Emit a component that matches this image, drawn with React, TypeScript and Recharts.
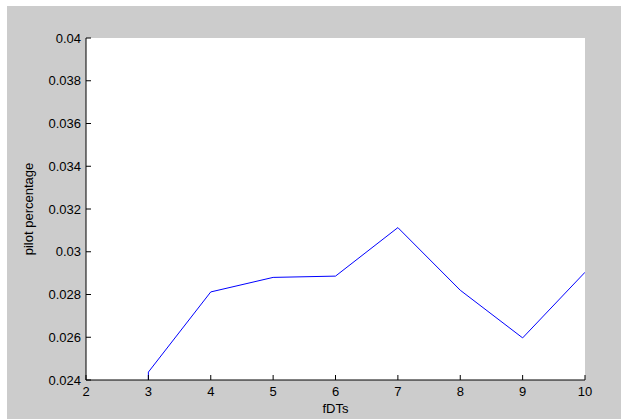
import { LineChart, Line, XAxis, YAxis, CartesianGrid, Label } from 'recharts';

// fDTs values (3 appears twice: the trace starts on the bottom edge)
const FDTS = [3, 3, 4, 5, 6, 7, 8, 9, 10];
const PILOT_PCT = [0.024, 0.02437, 0.02812, 0.0288, 0.02886, 0.03113, 0.0282, 0.02597, 0.02904];

const X_TICKS = [2, 3, 4, 5, 6, 7, 8, 9, 10];
const Y_TICKS = [0.024, 0.026, 0.028, 0.03, 0.032, 0.034, 0.036, 0.038, 0.04];

const FONT = '"Liberation Sans", Arial, sans-serif';
const tickStyle = { fill: '#000', fontSize: 13, fontFamily: FONT };

const fmtY = (v: number) => String(+v.toFixed(3));
const blank = () => '';

export default function App() {
    const data = FDTS.map((x, i) => ({ x, y: PILOT_PCT[i] }));

    return (
        <div style={{ position: 'fixed', left: 0, top: 0, width: 621, height: 419, background: '#ffffff', fontFamily: FONT }}>
            {/* figure background, the screenshot has a thin white edge top/left */}
            <div style={{ position: 'absolute', left: 7, top: 6, right: 0, bottom: 0, background: '#cccccc' }} />
            <div style={{ position: 'absolute', left: 0, top: 0 }}>
                <LineChart width={621} height={419} data={data} margin={{ top: 38, right: 36, bottom: 0, left: 0 }}>
                    <CartesianGrid horizontal={false} vertical={false} fill="#ffffff" />
                    <XAxis
                        dataKey="x"
                        type="number"
                        domain={[2, 10]}
                        ticks={X_TICKS}
                        allowDataOverflow
                        height={39}
                        tickSize={-5}
                        tickMargin={12}
                        stroke="#000"
                        tick={tickStyle}
                    >
                        <Label value="fDTs" position="insideBottom" offset={6} style={{ fill: '#000', fontSize: 13, fontFamily: FONT }} />
                    </XAxis>
                    <XAxis
                        xAxisId="top"
                        orientation="top"
                        dataKey="x"
                        type="number"
                        domain={[2, 10]}
                        ticks={X_TICKS}
                        allowDataOverflow
                        height={0}
                        tickSize={-5}
                        tickFormatter={blank}
                        stroke="#000"
                    >
                        <Label value="piot percentage performance of RLS" position="top" offset={11} style={{ fill: '#000', fontSize: 13, fontFamily: FONT }} />
                    </XAxis>
                    <YAxis
                        type="number"
                        domain={[0.024, 0.04]}
                        ticks={Y_TICKS}
                        allowDataOverflow
                        width={86}
                        tickSize={-5}
                        tickMargin={10}
                        tickFormatter={fmtY}
                        stroke="#000"
                        tick={tickStyle}
                    >
                        <Label
                            value="pilot percentage"
                            angle={-90}
                            position="insideLeft"
                            offset={28}
                            style={{ textAnchor: 'middle', fill: '#000', fontSize: 13, fontFamily: FONT }}
                        />
                    </YAxis>
                    <YAxis
                        yAxisId="right"
                        orientation="right"
                        type="number"
                        domain={[0.024, 0.04]}
                        ticks={Y_TICKS}
                        allowDataOverflow
                        width={0}
                        tickSize={-5}
                        tickFormatter={blank}
                        stroke="#000"
                    />
                    <Line
                        type="linear"
                        dataKey="y"
                        stroke="#0000ff"
                        strokeWidth={1}
                        dot={false}
                        isAnimationActive={false}
                    />
                </LineChart>
            </div>
        </div>
    );
}
